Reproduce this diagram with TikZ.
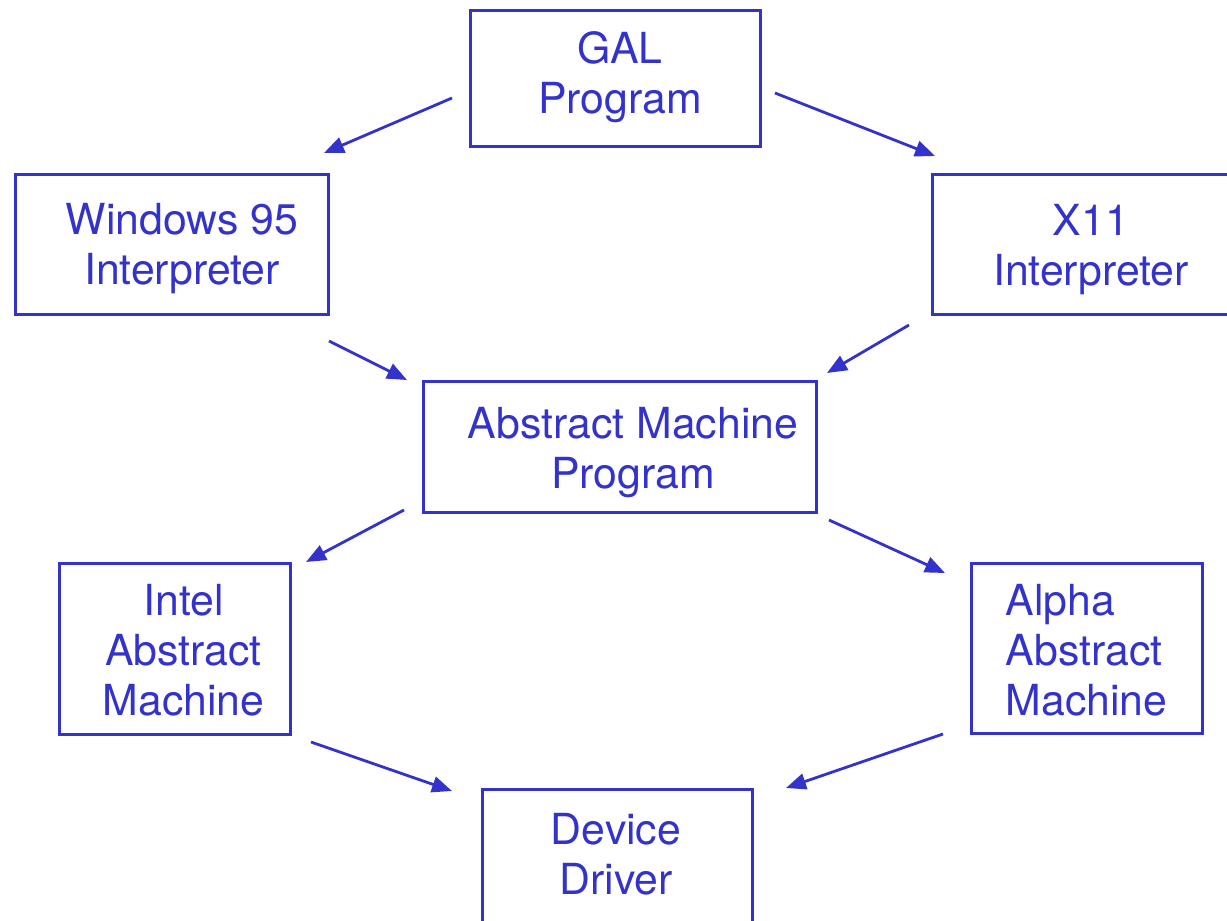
\documentclass[tikz,border=0pt]{standalone}
\usepackage{fontspec}
\setmainfont{TeX Gyre Heros}
\usepackage{tikz}
\usetikzlibrary{arrows.meta,positioning}
\definecolor{galblue}{RGB}{51,51,204}
\tikzstyle{arrow} = [line width=1.4pt,-{Triangle[length=10pt,width=8pt]},color=galblue]
\tikzstyle{stagebox} = [rectangle, draw=galblue, line width=1.5pt, inner sep=0pt]
\tikzstyle{stagetext} = [inner sep=0pt, align=center, text=galblue, font=\fontsize{21.4pt}{25pt}\selectfont]

\begin{document}
\begin{tikzpicture}[x=0.5pt, y=-0.5pt]
\useasboundingbox (0,0) rectangle (1227,921);
% boxes
\node[stagebox, minimum width=145pt, minimum height=68pt] (gal) at (615,78) {};
\node[stagebox, minimum width=156.5pt, minimum height=70pt] (win) at (171.5,244) {};
\node[stagebox, minimum width=160pt, minimum height=70pt] (xel) at (1092,244) {};
\node[stagebox, minimum width=196.5pt, minimum height=65.5pt] (amp) at (619.5,446.5) {};
\node[stagebox, minimum width=115.5pt, minimum height=85.5pt] (intel) at (174.5,648.5) {};
\node[stagebox, minimum width=115.5pt, minimum height=85pt] (alpha) at (1086.5,648) {};
\node[stagebox, minimum width=135pt, minimum height=68pt] (dev) at (617,857) {};

% texts
\node[stagetext] (galtxt) at (620,77) {GAL\\Program};
\node[stagetext] (wintxt) at (182,249) {Windows 95\\Interpreter};
\node[stagetext] (xeltxt) at (1091,250) {X11\\Interpreter};
\node[stagetext] (amptxt) at (633,453) {Abstract Machine\\Program};
\node[stagetext] (inteltxt) at (183.5,650) {Intel\\Abstract\\Machine};
\node[stagetext, align=left] (alphatxt) at (1086.5,650) {Alpha\\Abstract\\Machine};
\node[stagetext] (devtxt) at (616,854) {Device\\Driver};

% arrow ends
\coordinate (a1) at (452,98);  \coordinate (a2) at (324,153);
\coordinate (b1) at (775,93);  \coordinate (b2) at (935,156);
\coordinate (c1) at (329,341); \coordinate (c2) at (407,380);
\coordinate (d1) at (909,325); \coordinate (d2) at (827,373);
\coordinate (e1) at (404,510); \coordinate (e2) at (306,562);
\coordinate (f1) at (829,520); \coordinate (f2) at (945,573);
\coordinate (g1) at (311,742); \coordinate (g2) at (452,791);
\coordinate (h1) at (943,734); \coordinate (h2) at (786,788);

\draw[arrow] (a1) -- (a2);
\draw[arrow] (b1) -- (b2);
\draw[arrow] (c1) -- (c2);
\draw[arrow] (d1) -- (d2);
\draw[arrow] (e1) -- (e2);
\draw[arrow] (f1) -- (f2);
\draw[arrow] (g1) -- (g2);
\draw[arrow] (h1) -- (h2);
\end{tikzpicture}
\end{document}
